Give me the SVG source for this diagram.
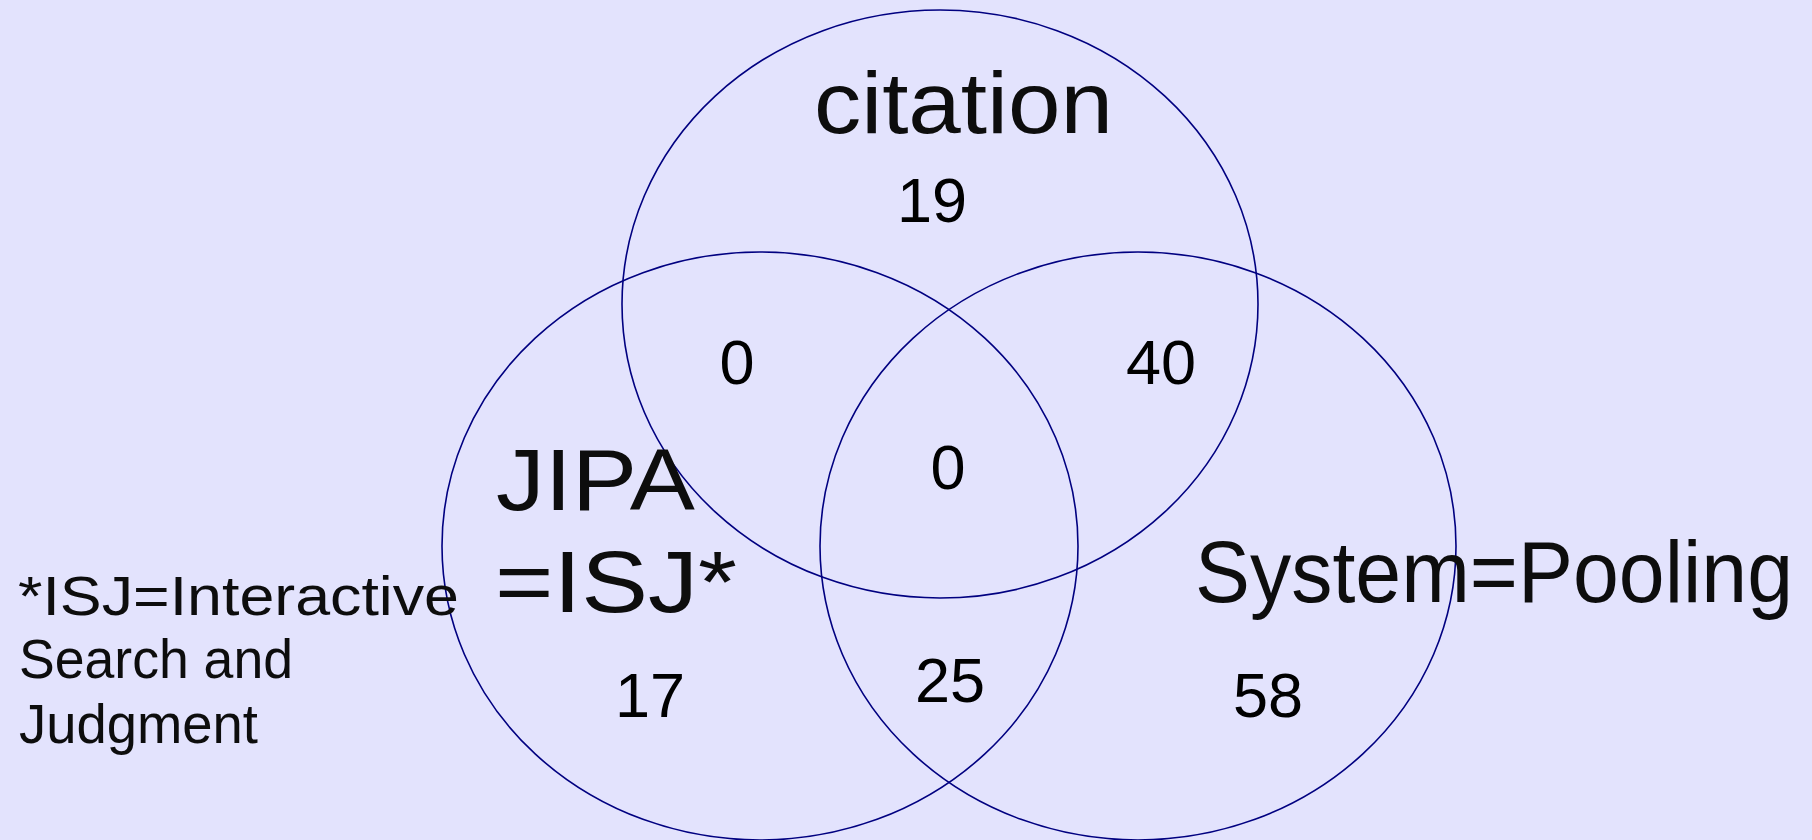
<svg xmlns="http://www.w3.org/2000/svg" width="1812" height="840" viewBox="0 0 1812 840">
  <style>
    .set { fill: none; stroke: #000080; stroke-width: 1.6; }
    .label { font-family: "Liberation Sans", Arial, sans-serif; fill: #0d0d0d; font-size: 88px; }
    .note { font-family: "Liberation Sans", Arial, sans-serif; fill: #0d0d0d; font-size: 56px; }
    .count { font-family: "Liberation Sans", Arial, sans-serif; fill: #000; font-size: 63px; text-anchor: middle; }
  </style>
  <rect width="1812" height="840" fill="#e3e3fd"/>

  <g id="citation">
    <ellipse class="set" cx="940" cy="304" rx="318" ry="294"/>
    <text class="label" x="814" y="133" textLength="299" lengthAdjust="spacingAndGlyphs">citation</text>
    <text class="count" x="932" y="222">19</text>
  </g>

  <g id="jipa">
    <ellipse class="set" cx="760" cy="546" rx="318" ry="294"/>
    <text class="label" x="496" y="510" textLength="199" lengthAdjust="spacingAndGlyphs">JIPA</text>
    <text class="label" x="495" y="612" textLength="242" lengthAdjust="spacingAndGlyphs">=ISJ*</text>
    <text class="count" x="650" y="717">17</text>
  </g>

  <g id="system">
    <ellipse class="set" cx="1138" cy="546" rx="318" ry="294"/>
    <text class="label" x="1195" y="602" textLength="598" lengthAdjust="spacingAndGlyphs">System=Pooling</text>
    <text class="count" x="1268" y="717">58</text>
  </g>

  <g id="overlaps">
    <text class="count" x="737" y="384">0</text>
    <text class="count" x="1161" y="384">40</text>
    <text class="count" x="948" y="489">0</text>
    <text class="count" x="950" y="702">25</text>
  </g>

  <g id="footnote">
    <text class="note" x="18" y="615" textLength="441" lengthAdjust="spacingAndGlyphs">*ISJ=Interactive</text>
    <text class="note" x="19" y="678" textLength="274" lengthAdjust="spacingAndGlyphs">Search and</text>
    <text class="note" x="19" y="743" textLength="239" lengthAdjust="spacingAndGlyphs">Judgment</text>
  </g>

  <g id="connectors"/>
</svg>
